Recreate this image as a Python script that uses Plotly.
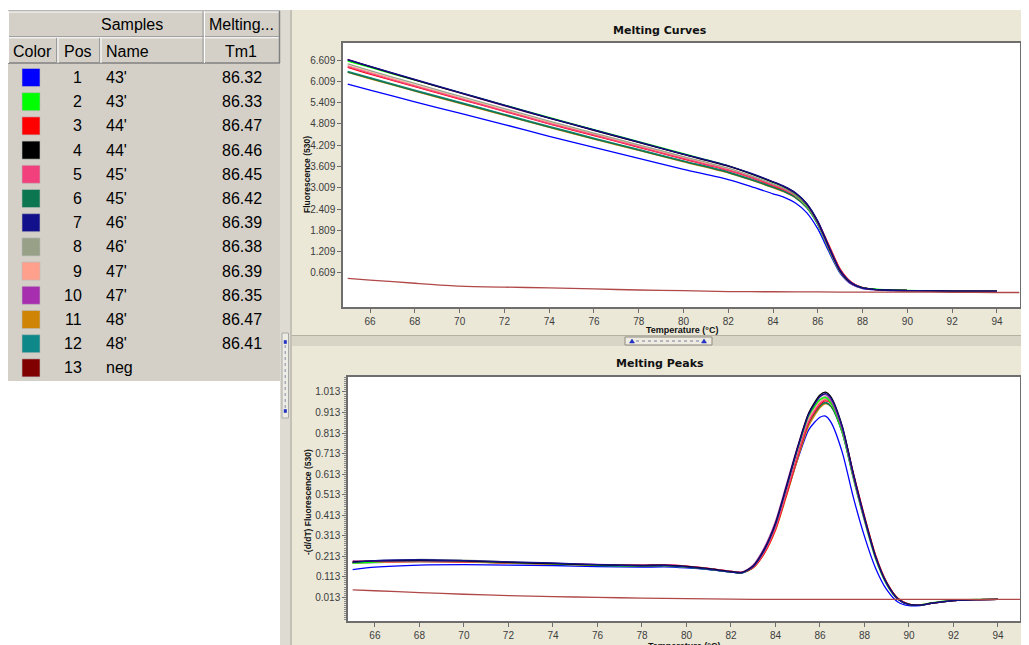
import plotly.graph_objects as go

# The page body has an 8px margin, so the figure is drawn 8px in from the window's corner.
OFF = 8
W, H = 1029 - OFF, 645 - OFF

# ---------------- table data ----------------
sample_pos = [1, 2, 3, 4, 5, 6, 7, 8, 9, 10, 11, 12, 13]
sample_names = ["43'", "43'", "44'", "44'", "45'", "45'", "46'", "46'", "47'", "47'", "48'", "48'", "neg"]
sample_tm1 = ["86.32", "86.33", "86.47", "86.46", "86.45", "86.42", "86.39", "86.38", "86.39", "86.35", "86.47", "86.41", ""]
sample_colors = ["#0000ff", "#00ff00", "#ff0000", "#000000", "#f2407c", "#0c7650", "#12108a", "#98a088",
                 "#ffa08c", "#a82eb0", "#d08406", "#0e8888", "#800000"]

# ---------------- axis ticks ----------------
temp_ticks = [66, 68, 70, 72, 74, 76, 78, 80, 82, 84, 86, 88, 90, 92, 94]
curve_yticks = [0.609, 1.209, 1.809, 2.409, 3.009, 3.609, 4.209, 4.809, 5.409, 6.009, 6.609]
peak_yticks = [0.013, 0.113, 0.213, 0.313, 0.413, 0.513, 0.613, 0.713, 0.813, 0.913, 1.013]
curve_xrange = [64.79, 95.03]
curve_yrange = [-0.349, 7.088]
peak_xrange = [64.79, 94.99]
peak_yrange = [-0.1024, 1.086]

# ---------------- melting curves (fluorescence 530) ----------------
curve_temps = [65, 66, 68, 70, 72, 74, 76, 78, 80, 82, 83, 84, 84.5, 85, 85.5, 86, 86.5, 87, 87.5,
               88, 88.5, 89, 90, 91, 92, 93, 94]
curve_s1 = [5.93, 5.76, 5.43, 5.11, 4.79, 4.46, 4.15, 3.84, 3.53, 3.24, 3.05, 2.84, 2.74, 2.58, 2.31, 1.85, 1.20, 0.60, 0.29, 0.17, 0.14, 0.12, 0.11, 0.10, 0.10, 0.10, 0.10]
curve_s2 = [6.58, 6.40, 6.04, 5.69, 5.34, 4.99, 4.65, 4.31, 3.97, 3.63, 3.41, 3.16, 3.02, 2.82, 2.50, 1.97, 1.25, 0.62, 0.31, 0.19, 0.16, 0.14, 0.12, 0.11, 0.105, 0.10, 0.10]
curve_s3 = [6.40, 6.21, 5.86, 5.51, 5.16, 4.81, 4.48, 4.15, 3.82, 3.50, 3.30, 3.07, 2.95, 2.79, 2.52, 2.06, 1.39, 0.72, 0.35, 0.20, 0.15, 0.13, 0.115, 0.105, 0.10, 0.10, 0.10]
curve_s4 = [6.61, 6.42, 6.05, 5.69, 5.33, 4.97, 4.63, 4.29, 3.95, 3.62, 3.41, 3.17, 3.04, 2.86, 2.56, 2.05, 1.33, 0.66, 0.32, 0.19, 0.15, 0.13, 0.115, 0.105, 0.10, 0.10, 0.10]
curve_s5 = [6.42, 6.23, 5.87, 5.52, 5.17, 4.82, 4.49, 4.16, 3.83, 3.51, 3.31, 3.08, 2.96, 2.79, 2.51, 2.04, 1.36, 0.70, 0.34, 0.20, 0.15, 0.13, 0.115, 0.105, 0.10, 0.10, 0.10]
curve_s6 = [6.27, 6.09, 5.74, 5.40, 5.06, 4.72, 4.39, 4.07, 3.75, 3.44, 3.24, 3.02, 2.90, 2.73, 2.45, 1.98, 1.31, 0.67, 0.33, 0.19, 0.15, 0.13, 0.115, 0.105, 0.10, 0.10, 0.10]
curve_s7 = [6.62, 6.43, 6.06, 5.70, 5.34, 4.98, 4.64, 4.30, 3.96, 3.63, 3.42, 3.18, 3.05, 2.87, 2.57, 2.07, 1.35, 0.68, 0.33, 0.19, 0.15, 0.13, 0.115, 0.105, 0.10, 0.10, 0.10]
curve_s8 = [6.50, 6.31, 5.95, 5.59, 5.24, 4.89, 4.55, 4.22, 3.89, 3.56, 3.35, 3.12, 2.99, 2.81, 2.51, 2.01, 1.31, 0.66, 0.32, 0.19, 0.15, 0.13, 0.115, 0.105, 0.10, 0.10, 0.10]
curve_s9 = [6.45, 6.27, 5.90, 5.55, 5.20, 4.85, 4.52, 4.19, 3.86, 3.53, 3.33, 3.09, 2.97, 2.79, 2.49, 2.00, 1.30, 0.65, 0.32, 0.19, 0.15, 0.13, 0.115, 0.105, 0.10, 0.10, 0.10]
curve_s10 = [6.63, 6.43, 6.05, 5.68, 5.32, 4.97, 4.63, 4.29, 3.95, 3.62, 3.41, 3.17, 3.03, 2.84, 2.53, 2.00, 1.28, 0.63, 0.30, 0.18, 0.14, 0.12, 0.11, 0.10, 0.10, 0.10, 0.10]
curve_s11 = [6.26, 6.08, 5.73, 5.39, 5.05, 4.71, 4.38, 4.06, 3.74, 3.43, 3.23, 3.01, 2.89, 2.73, 2.46, 2.01, 1.35, 0.70, 0.34, 0.20, 0.15, 0.13, 0.115, 0.105, 0.10, 0.10, 0.10]
curve_s12 = [6.29, 6.11, 5.76, 5.42, 5.08, 4.74, 4.41, 4.09, 3.77, 3.46, 3.26, 3.04, 2.92, 2.75, 2.46, 1.98, 1.30, 0.66, 0.32, 0.19, 0.15, 0.13, 0.115, 0.105, 0.10, 0.10, 0.10]
neg_temps = [65, 66, 68, 70, 72, 74, 76, 78, 80, 82, 84, 86, 88, 90, 92, 94, 95]
curve_neg = [0.46, 0.41, 0.32, 0.24, 0.21, 0.19, 0.16, 0.13, 0.11, 0.085, 0.08, 0.075, 0.07, 0.07, 0.065, 0.06, 0.06]

# ---------------- melting peaks -(d/dT) fluorescence ----------------
peak_temps = [65, 66, 68, 70, 72, 74, 76, 78, 79, 80, 81, 82, 82.5, 83, 83.5, 84, 84.5, 85, 85.5, 86,
              86.25, 86.5, 87, 87.5, 88, 88.5, 89, 89.5, 90, 90.5, 91, 92, 93, 94]
peak_s1 = [0.148, 0.16, 0.17, 0.172, 0.17, 0.168, 0.162, 0.16, 0.161, 0.156, 0.148, 0.136, 0.132, 0.16, 0.235, 0.35, 0.515, 0.685, 0.83, 0.89, 0.896, 0.865, 0.72, 0.5, 0.31, 0.155, 0.05, -0.01, -0.028, -0.027, -0.017, -0.003, 0.002, 0.003]
peak_s2 = [0.18, 0.185, 0.19, 0.188, 0.182, 0.176, 0.17, 0.166, 0.168, 0.162, 0.151, 0.137, 0.133, 0.167, 0.25, 0.375, 0.556, 0.74, 0.9, 0.975, 0.985, 0.958, 0.818, 0.59, 0.385, 0.2, 0.075, 0.003, -0.022, -0.024, -0.014, -0.001, 0.003, 0.003]
peak_s3 = [0.184, 0.186, 0.188, 0.186, 0.181, 0.176, 0.171, 0.169, 0.171, 0.165, 0.154, 0.14, 0.135, 0.158, 0.228, 0.343, 0.515, 0.7, 0.865, 0.952, 0.97, 0.957, 0.835, 0.618, 0.408, 0.218, 0.086, 0.008, -0.02, -0.024, -0.016, -0.003, 0.002, 0.003]
peak_s4 = [0.186, 0.19, 0.193, 0.19, 0.183, 0.177, 0.171, 0.168, 0.17, 0.163, 0.152, 0.138, 0.134, 0.166, 0.247, 0.372, 0.555, 0.745, 0.912, 0.998, 1.012, 0.988, 0.848, 0.615, 0.402, 0.212, 0.082, 0.006, -0.022, -0.025, -0.016, -0.003, 0.002, 0.003]
peak_s5 = [0.188, 0.19, 0.19, 0.187, 0.182, 0.177, 0.172, 0.17, 0.172, 0.165, 0.154, 0.139, 0.135, 0.16, 0.232, 0.348, 0.522, 0.707, 0.872, 0.958, 0.975, 0.96, 0.836, 0.618, 0.407, 0.217, 0.085, 0.007, -0.021, -0.024, -0.016, -0.003, 0.002, 0.003]
peak_s6 = [0.181, 0.185, 0.189, 0.187, 0.181, 0.175, 0.169, 0.165, 0.166, 0.16, 0.149, 0.136, 0.132, 0.159, 0.233, 0.35, 0.522, 0.703, 0.862, 0.944, 0.96, 0.942, 0.816, 0.6, 0.395, 0.21, 0.082, 0.006, -0.022, -0.025, -0.016, -0.003, 0.002, 0.003]
peak_s7 = [0.183, 0.192, 0.196, 0.192, 0.186, 0.18, 0.172, 0.166, 0.167, 0.161, 0.15, 0.136, 0.132, 0.163, 0.243, 0.367, 0.55, 0.74, 0.905, 0.99, 1.005, 0.982, 0.844, 0.613, 0.4, 0.21, 0.081, 0.005, -0.023, -0.026, -0.017, -0.003, 0.002, 0.003]
peak_s8 = [0.182, 0.187, 0.198, 0.194, 0.186, 0.178, 0.172, 0.167, 0.168, 0.161, 0.15, 0.137, 0.133, 0.164, 0.244, 0.367, 0.547, 0.733, 0.895, 0.977, 0.99, 0.967, 0.83, 0.603, 0.395, 0.208, 0.08, 0.005, -0.022, -0.025, -0.016, -0.003, 0.002, 0.003]
peak_s9 = [0.178, 0.183, 0.186, 0.185, 0.18, 0.175, 0.17, 0.167, 0.168, 0.162, 0.151, 0.137, 0.133, 0.163, 0.242, 0.363, 0.541, 0.726, 0.887, 0.968, 0.98, 0.958, 0.824, 0.6, 0.393, 0.207, 0.08, 0.005, -0.022, -0.025, -0.016, -0.003, 0.002, 0.003]
peak_s10 = [0.19, 0.188, 0.19, 0.189, 0.184, 0.178, 0.173, 0.17, 0.172, 0.164, 0.153, 0.139, 0.136, 0.17, 0.255, 0.382, 0.565, 0.75, 0.91, 0.99, 1.0, 0.972, 0.83, 0.598, 0.39, 0.205, 0.078, 0.004, -0.021, -0.024, -0.015, -0.002, 0.002, 0.003]
peak_s11 = [0.18, 0.184, 0.187, 0.185, 0.18, 0.175, 0.17, 0.167, 0.168, 0.162, 0.151, 0.137, 0.133, 0.156, 0.226, 0.338, 0.507, 0.688, 0.849, 0.936, 0.955, 0.942, 0.822, 0.61, 0.404, 0.216, 0.086, 0.008, -0.02, -0.024, -0.016, -0.003, 0.002, 0.003]
peak_s12 = [0.178, 0.182, 0.186, 0.185, 0.18, 0.174, 0.168, 0.164, 0.165, 0.159, 0.149, 0.136, 0.132, 0.16, 0.235, 0.352, 0.524, 0.705, 0.864, 0.946, 0.962, 0.943, 0.815, 0.598, 0.393, 0.208, 0.081, 0.005, -0.022, -0.025, -0.016, -0.003, 0.002, 0.003]
peak_neg = [0.049, 0.045, 0.036, 0.028, 0.021, 0.016, 0.013, 0.009, 0.007, 0.004, 0.003, 0.003, 0.003, 0.003, 0.003, 0.003, 0.003]

curves = [curve_s1, curve_s2, curve_s3, curve_s4, curve_s5, curve_s6, curve_s7, curve_s8,
          curve_s9, curve_s10, curve_s11, curve_s12]
peaks = [peak_s1, peak_s2, peak_s3, peak_s4, peak_s5, peak_s6, peak_s7, peak_s8,
         peak_s9, peak_s10, peak_s11, peak_s12]


def xp(px):
    # window pixel -> paper fraction
    return (px - OFF) / W


def yp(py):
    return 1 - (py - OFF) / H


PANEL = "#ebe8d8"

fig = go.Figure()
draw_order = [0, 11, 10, 5, 8, 2, 4, 7, 1, 9, 3, 6]
for i in draw_order:
    fig.add_trace(go.Scatter(x=curve_temps, y=curves[i], xaxis="x", yaxis="y", mode="lines",
                             line=dict(color=sample_colors[i], width=1.3, shape="spline", smoothing=0.7),
                             showlegend=False, hoverinfo="skip"))
fig.add_trace(go.Scatter(x=neg_temps, y=curve_neg, xaxis="x", yaxis="y", mode="lines",
                         line=dict(color="#b04848", width=1.3, shape="spline", smoothing=0.6),
                         showlegend=False, hoverinfo="skip"))
for i in draw_order:
    fig.add_trace(go.Scatter(x=peak_temps, y=peaks[i], xaxis="x2", yaxis="y2", mode="lines",
                             line=dict(color=sample_colors[i], width=1.3, shape="spline", smoothing=0.7),
                             showlegend=False, hoverinfo="skip"))
fig.add_trace(go.Scatter(x=neg_temps, y=peak_neg, xaxis="x2", yaxis="y2", mode="lines",
                         line=dict(color="#b04848", width=1.3, shape="spline", smoothing=0.6),
                         showlegend=False, hoverinfo="skip"))

tick_font = dict(family="Liberation Sans, Arial, sans-serif", size=10, color="#3c3c3c")
axis_common = dict(showgrid=False, zeroline=False, showline=True, mirror=True, linecolor="#6e6e6e",
                   linewidth=1.5, ticks="outside", ticklen=4, tickcolor="#6e6e6e", tickwidth=1,
                   tickfont=tick_font, fixedrange=True)

fig.update_layout(
    width=W, height=H, margin=dict(l=0, r=0, t=0, b=0),
    paper_bgcolor=PANEL, plot_bgcolor="#ffffff",
    xaxis=dict(domain=[xp(343), xp(1020)], range=curve_xrange, anchor="y",
               tickmode="array", tickvals=temp_ticks, ticktext=[str(t) for t in temp_ticks], **axis_common),
    yaxis=dict(domain=[yp(307), yp(43)], range=curve_yrange, anchor="x",
               tickmode="array", tickvals=curve_yticks, ticktext=["%.3f" % v for v in curve_yticks], **axis_common),
    xaxis2=dict(domain=[xp(348), xp(1020)], range=peak_xrange, anchor="y2",
                tickmode="array", tickvals=temp_ticks, ticktext=[str(t) for t in temp_ticks], **axis_common),
    yaxis2=dict(domain=[yp(621), yp(377)], range=peak_yrange, anchor="x2",
                tickmode="array", tickvals=peak_yticks, ticktext=["%.3f" % v for v in peak_yticks],
                minor=dict(tickmode="linear", tick0=0.013, dtick=0.01, ticklen=2, ticks="outside",
                           tickcolor="#8a8a8a"),
                **axis_common),
)

shapes = []
annos = []


def rect(x0, y0, x1, y1, fill, line=None, lw=0, layer="below"):
    shapes.append(dict(type="rect", xref="paper", yref="paper", x0=xp(x0), x1=xp(x1), y0=yp(y1), y1=yp(y0),
                       fillcolor=fill, line=dict(color=line or fill, width=lw), layer=layer))


def hline(x0, x1, y, color, w=1, layer="above", dash=None):
    d = dict(type="line", xref="paper", yref="paper", x0=xp(x0), x1=xp(x1), y0=yp(y), y1=yp(y),
             line=dict(color=color, width=w), layer=layer)
    if dash:
        d["line"]["dash"] = dash
    shapes.append(d)


def vline(x, y0, y1, color, w=1, layer="above", dash=None):
    d = dict(type="line", xref="paper", yref="paper", x0=xp(x), x1=xp(x), y0=yp(y0), y1=yp(y1),
             line=dict(color=color, width=w), layer=layer)
    if dash:
        d["line"]["dash"] = dash
    shapes.append(d)


def text(x, y, s, size=16, xanchor="center", yanchor="middle", bold=False, color="#000000",
         family="Liberation Sans, Arial, sans-serif", angle=0):
    annos.append(dict(x=xp(x), y=yp(y), xref="paper", yref="paper", text=("<b>%s</b>" % s) if bold else s,
                      showarrow=False, xanchor=xanchor, yanchor=yanchor, textangle=angle,
                      font=dict(family=family, size=size, color=color)))


# white areas of the window (paper itself is the panel colour); none overlap the plots
rect(0, 0, 1040, 10, "#ffffff")              # top margin
rect(0, 0, 6, 660, "#ffffff")                # left margin
rect(0, 381, 280, 660, "#ffffff")            # empty area below the table
rect(280, 10, 292, 646, "#dedbd2")           # vertical splitter strip
vline(291, 10, 646, "#a9a598", 1, layer="below")
rect(6, 10, 280, 381, "#d4d0c8")             # table area

# horizontal splitter between charts
rect(292, 335, 1030, 346, "#d8d4c6")
hline(292, 1030, 335.5, "#b4b0a2", 1, layer="below")
rect(625, 337, 712, 345, "#eeebe0", line="#8e8b80", lw=1, layer="above")
hline(636, 702, 341, "#7c7c9c", 1, dash="dot")
for hx in (632, 704):
    shapes.append(dict(type="path", xref="paper", yref="paper",
                       path="M %f %f L %f %f L %f %f Z" % (xp(hx - 2.5), yp(343), xp(hx + 2.5), yp(343), xp(hx), yp(339)),
                       fillcolor="#2030c0", line=dict(color="#2030c0", width=0.5), layer="above"))

# vertical scroll thumb on the left splitter
rect(282, 333, 288.5, 418, "#ecebe4", line="#a8a8a8", lw=1, layer="above")
vline(285.2, 345, 408, "#8a8aa8", 1, dash="dot")
for vy in (342, 411):
    rect(283.8, vy - 1.8, 286.8, vy + 1.8, "#2030c0", layer="above")

# table header bevels
hline(6, 280, 11, "#a0a0a0", 1)
hline(6, 280, 12, "#ffffff", 1)
hline(6, 280, 36.5, "#a0a0a0", 1)
hline(6, 280, 37.8, "#ffffff", 1)
hline(6, 280, 63, "#808080", 1.5)
vline(8.5, 11, 63, "#ffffff", 1)
vline(203, 11, 63, "#9a9a9a", 1)
vline(204.5, 11, 63, "#ffffff", 1)
vline(279.5, 11, 63, "#808080", 1.5)
vline(56.5, 38, 63, "#9a9a9a", 1)
vline(58, 38, 63, "#ffffff", 1)
vline(99.5, 38, 63, "#9a9a9a", 1)
vline(101, 38, 63, "#ffffff", 1)

text(132, 25, "Samples")
text(241, 25, "Melting...")
text(32, 51, "Color")
text(78, 51, "Pos")
text(104, 51, "Name", xanchor="left")
text(241, 51, "Tm1")

row_y0, row_dy = 77.5, 24.2
for k in range(len(sample_pos)):
    cy = row_y0 + k * row_dy
    rect(22, cy - 9, 40, cy + 9, sample_colors[k], line="#b8b8b8", lw=0.6, layer="above")
    text(84, cy, str(sample_pos[k]), xanchor="right")
    text(104, cy, sample_names[k], xanchor="left")
    if sample_tm1[k]:
        text(264, cy, sample_tm1[k], xanchor="right")

# chart titles and axis titles
text(660, 30, "Melting Curves", size=11, bold=True, family="DejaVu Sans, Verdana, sans-serif", color="#111111")
text(660, 363, "Melting Peaks", size=11, bold=True, family="DejaVu Sans, Verdana, sans-serif", color="#111111")
text(681.5, 330, "Temperature (°C)", size=9, bold=True, color="#111111")
text(684, 639, "Temperature (°C)", size=9, bold=True, color="#111111", yanchor="top")
text(307, 175, "Fluorescence (530)", size=8.5, bold=True, color="#111111", angle=-90)
text(308, 502, "-(d/dT) Fluorescence (530)", size=8.5, bold=True, color="#111111", angle=-90)

fig.update_layout(shapes=shapes, annotations=annos)
fig.write_html("out.html")
